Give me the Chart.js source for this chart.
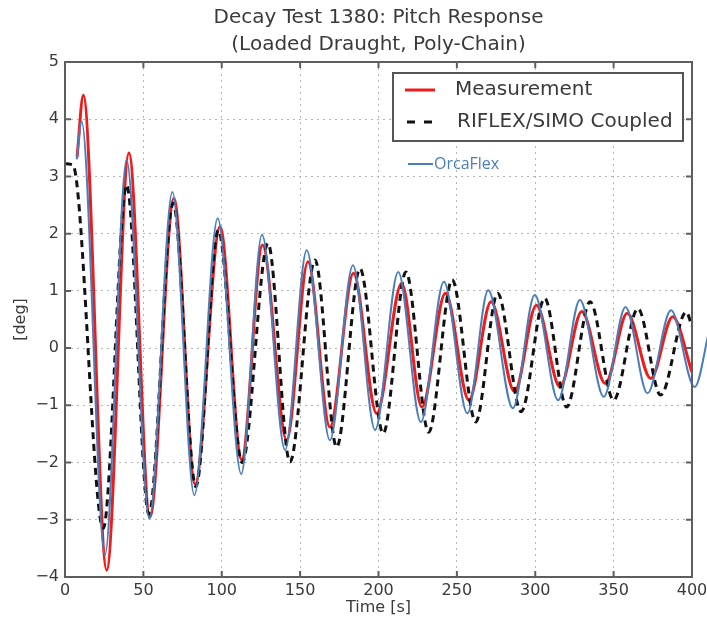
<!DOCTYPE html>
<html>
<head>
<meta charset="utf-8">
<title>Decay Test 1380: Pitch Response</title>
<script src="https://cdn.jsdelivr.net/npm/chart.js@4.4.1/dist/chart.umd.min.js"></script>
<style>
    html, body { margin: 0; padding: 0; background: #fff; }
    canvas { display: block; }
</style>
</head>
<body>
<canvas id="decayChart" width="707" height="622"></canvas>
<script>
// Measurement (red) - time [s] / pitch [deg], read at the turning points
const measTime = [7.7, 11.7, 26.6, 40.8, 54.2, 69.5, 83, 98.9, 112.7, 126, 141.4, 155, 169, 184, 198.8, 214.8, 227.7, 242.7, 257.7, 271.8, 286.8, 300.7, 315.8, 329.7, 344.7, 358.7, 373.7, 387.7, 400];
const measDeg = [3.34, 4.42, -3.88, 3.41, -2.95, 2.62, -2.38, 2.12, -1.95, 1.8, -1.61, 1.51, -1.38, 1.31, -1.14, 1.13, -1.03, 0.96, -0.91, 0.81, -0.76, 0.75, -0.68, 0.64, -0.62, 0.61, -0.53, 0.55, -0.42];

// RIFLEX/SIMO Coupled (black dashed)
const rifTime = [0, 5, 24.4, 39.3, 53.5, 69, 83.5, 97.8, 113, 129.5, 143.5, 159.5, 173.3, 188.2, 203, 217.5, 232, 247, 262, 276, 291, 306, 320, 335, 350, 365.5, 380, 396.3, 400];
const rifDeg = [3.22, 3.2, -3.15, 2.85, -2.9, 2.53, -2.42, 2.06, -2.0, 1.83, -1.99, 1.54, -1.73, 1.39, -1.49, 1.33, -1.47, 1.19, -1.29, 0.96, -1.11, 0.87, -1.03, 0.81, -0.91, 0.69, -0.82, 0.63, 0.38];

// OrcaFlex (blue, pasted over the plot, runs a bit past 400 s)
const orcaTime = [7.5, 10.6, 25.5, 39.3, 53.8, 68.5, 82.5, 97.4, 112.4, 125.7, 140.4, 154.2, 169, 183.7, 197.8, 212.6, 227, 241.7, 256.7, 270, 285.7, 299.7, 314.6, 328.5, 343.7, 357.6, 371.6, 386.6, 401.7, 411];
const orcaDeg = [3.3, 3.96, -3.62, 3.29, -2.98, 2.73, -2.57, 2.27, -2.2, 1.98, -1.78, 1.71, -1.61, 1.45, -1.43, 1.33, -1.29, 1.16, -1.14, 1.01, -1.05, 0.93, -0.91, 0.84, -0.85, 0.72, -0.79, 0.66, -0.68, 0.31];

const titleLines = ['Decay Test 1380: Pitch Response', '(Loaded Draught, Poly-Chain)'];
const xTitle = 'Time [s]';
const yTitle = '[deg]';

const toPoints = (ts, vs) => ts.map((t, i) => ({ x: t, y: vs[i] }));

const FONT = 'DejaVu Sans';
const AXIS_COLOR = '#5e5e5e';
const TEXT_COLOR = '#3a3a3a';

// Заголовок по центру области графика (как в matplotlib)
const titlePlugin = {
    id: 'axesTitle',
    afterDraw(chart) {
        const { ctx, chartArea: a } = chart;
        const cx = (a.left + a.right) / 2;
        ctx.save();
        ctx.font = '20px "' + FONT + '"';
        ctx.fillStyle = TEXT_COLOR;
        ctx.textAlign = 'center';
        ctx.textBaseline = 'middle';
        titleLines.forEach((line, i) => ctx.fillText(line, cx, 18 + i * 27));
        ctx.restore();
    }
};

// Рамка и внутренние засечки
const framePlugin = {
    id: 'frame',
    afterDatasetsDraw(chart) {
        const { ctx, chartArea: a, scales: { x, y } } = chart;
        ctx.save();
        ctx.strokeStyle = AXIS_COLOR;
        ctx.lineWidth = 2;
        ctx.beginPath();
        x.ticks.forEach(t => {
            const px = x.getPixelForValue(t.value);
            ctx.moveTo(px, a.top); ctx.lineTo(px, a.top + 6);
            ctx.moveTo(px, a.bottom); ctx.lineTo(px, a.bottom - 6);
        });
        y.ticks.forEach(t => {
            const py = y.getPixelForValue(t.value);
            ctx.moveTo(a.left, py); ctx.lineTo(a.left + 6, py);
            ctx.moveTo(a.right, py); ctx.lineTo(a.right - 6, py);
        });
        ctx.stroke();
        ctx.strokeRect(a.left, a.top, a.right - a.left, a.bottom - a.top);
        ctx.restore();
    }
};

// Легенда в рамке + отдельная подпись OrcaFlex
const legendPlugin = {
    id: 'boxLegend',
    afterDraw(chart) {
        const { ctx, chartArea: a } = chart;
        const ds = chart.data.datasets;
        const left = a.right - 299, top = a.top + 11, w = 290, h = 68;
        ctx.save();
        ctx.fillStyle = '#fff';
        ctx.fillRect(left, top, w, h);
        ctx.strokeStyle = '#555';
        ctx.lineWidth = 2;
        ctx.strokeRect(left, top, w, h);

        ctx.font = '20px "' + FONT + '"';
        ctx.textBaseline = 'middle';
        ctx.fillStyle = TEXT_COLOR;

        // Measurement
        ctx.strokeStyle = ds[0].borderColor;
        ctx.lineWidth = 3;
        ctx.beginPath();
        ctx.moveTo(left + 12, top + 17); ctx.lineTo(left + 42, top + 17);
        ctx.stroke();
        ctx.fillText(ds[0].label, left + 62, top + 17);

        // RIFLEX/SIMO
        ctx.strokeStyle = ds[1].borderColor;
        ctx.setLineDash([8, 9]);
        ctx.beginPath();
        ctx.moveTo(left + 14, top + 49); ctx.lineTo(left + 42, top + 49);
        ctx.stroke();
        ctx.setLineDash([]);
        ctx.fillText(ds[1].label, left + 64, top + 49);

        // OrcaFlex
        const oy = top + 91;
        ctx.strokeStyle = ds[2].borderColor;
        ctx.lineWidth = 2;
        ctx.beginPath();
        ctx.moveTo(left + 15, oy); ctx.lineTo(left + 40, oy);
        ctx.stroke();
        ctx.font = '16px "Open Sans"';
        ctx.fillStyle = ds[2].borderColor;
        ctx.fillText(ds[2].label, left + 41, oy);
        ctx.restore();
    }
};

const ctx = document.getElementById('decayChart').getContext('2d');
const chart = new Chart(ctx, {
    type: 'line',
    data: {
        datasets: [
            {
                label: 'Measurement',
                data: toPoints(measTime, measDeg),
                borderColor: '#f01c1c',
                borderWidth: 3,
                order: 3
            },
            {
                label: 'RIFLEX/SIMO Coupled',
                data: toPoints(rifTime, rifDeg),
                borderColor: '#111111',
                borderWidth: 3,
                borderDash: [7, 5],
                order: 2
            },
            {
                label: 'OrcaFlex',
                data: toPoints(orcaTime, orcaDeg),
                borderColor: '#4a7ebb',
                borderWidth: 2,
                clip: false,
                order: 1
            }
        ]
    },
    options: {
        responsive: false,
        animation: false,
        devicePixelRatio: 1,
        elements: {
            point: { radius: 0 },
            line: { cubicInterpolationMode: 'monotone', fill: false }
        },
        layout: { padding: { top: 62, right: 0, bottom: 0, left: 0 } },
        plugins: {
            legend: { display: false },
            tooltip: { enabled: false },
            title: { display: false }
        },
        scales: {
            x: {
                type: 'linear',
                // границы задаются тут, чтобы синяя линия не обрезалась на 400
                afterDataLimits: scale => { scale.min = 0; scale.max = 400; },
                ticks: {
                    stepSize: 50,
                    color: TEXT_COLOR,
                    font: { family: FONT, size: 16 },
                    padding: 4,
                    maxRotation: 0
                },
                grid: { color: '#b5b5b5', lineWidth: 1, drawTicks: false },
                border: { display: false, dash: [2, 4] },
                title: {
                    display: true,
                    text: xTitle,
                    color: TEXT_COLOR,
                    font: { family: FONT, size: 16 },
                    padding: { top: 0, bottom: 5 }
                },
                afterFit: scale => {
                    scale.height = 45;
                    scale.paddingLeft = 0;
                    scale.paddingRight = 15;
                }
            },
            y: {
                min: -4,
                max: 5,
                ticks: {
                    stepSize: 1,
                    color: TEXT_COLOR,
                    font: { family: FONT, size: 16 },
                    padding: 6,
                    callback: v => String(v).replace('-', '\u2212')
                },
                grid: { color: '#b5b5b5', lineWidth: 1, drawTicks: false },
                border: { display: false, dash: [2, 4] },
                title: {
                    display: true,
                    text: yTitle,
                    color: TEXT_COLOR,
                    font: { family: FONT, size: 16 },
                    padding: { top: 11, bottom: 0 }
                },
                afterFit: scale => { scale.width = 65; }
            }
        }
    },
    plugins: [framePlugin, legendPlugin, titlePlugin]
});
</script>
</body>
</html>
